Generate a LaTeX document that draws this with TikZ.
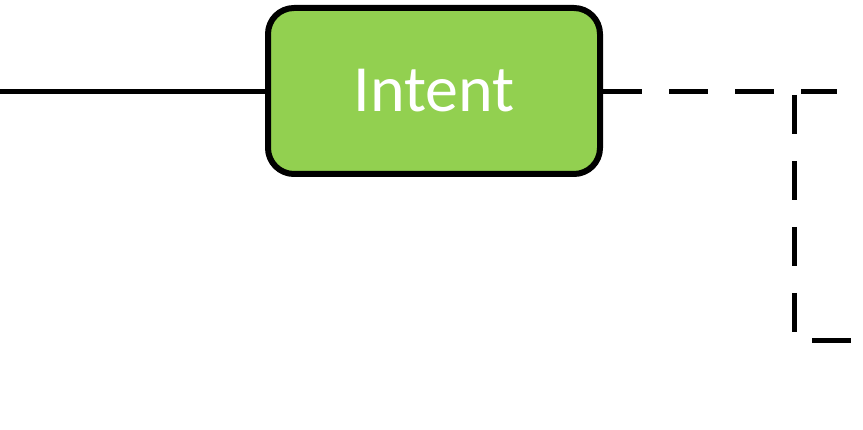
\documentclass[tikz,border=0pt]{standalone}
\usepackage{fontspec}
\setmainfont{Carlito}
\definecolor{boxgreen}{HTML}{92D050}
\tikzset{
  conn/.style={line width=5pt, draw=black},
  dashconn/.style={line width=5pt, draw=black, dash pattern=on 39pt off 27pt},
  intentbox/.style={draw=black, line width=6pt, fill=boxgreen, rounded corners=26pt,
    minimum width=332pt, minimum height=166pt, inner sep=0pt, text=white,
    font=\fontsize{66}{70}\selectfont}
}
\begin{document}
\begin{tikzpicture}[x=1pt,y=-1pt]
\useasboundingbox (0,0) rectangle (863,430);
\node[intentbox] (intent) at (434,91) {\raisebox{-2pt}{Intent}};
\coordinate (lstart) at (0,92);
\coordinate (rend) at (837,92);
\coordinate (vtop) at (794,95);
\coordinate (vbot) at (794,341);
\coordinate (bend) at (853,341);
\draw[conn] (lstart) -- (intent.west |- lstart);
\draw[dashconn] (intent.east |- rend) -- (rend);
\draw[dashconn] (vtop) -- (vbot) -- (bend);
\end{tikzpicture}
\end{document}
